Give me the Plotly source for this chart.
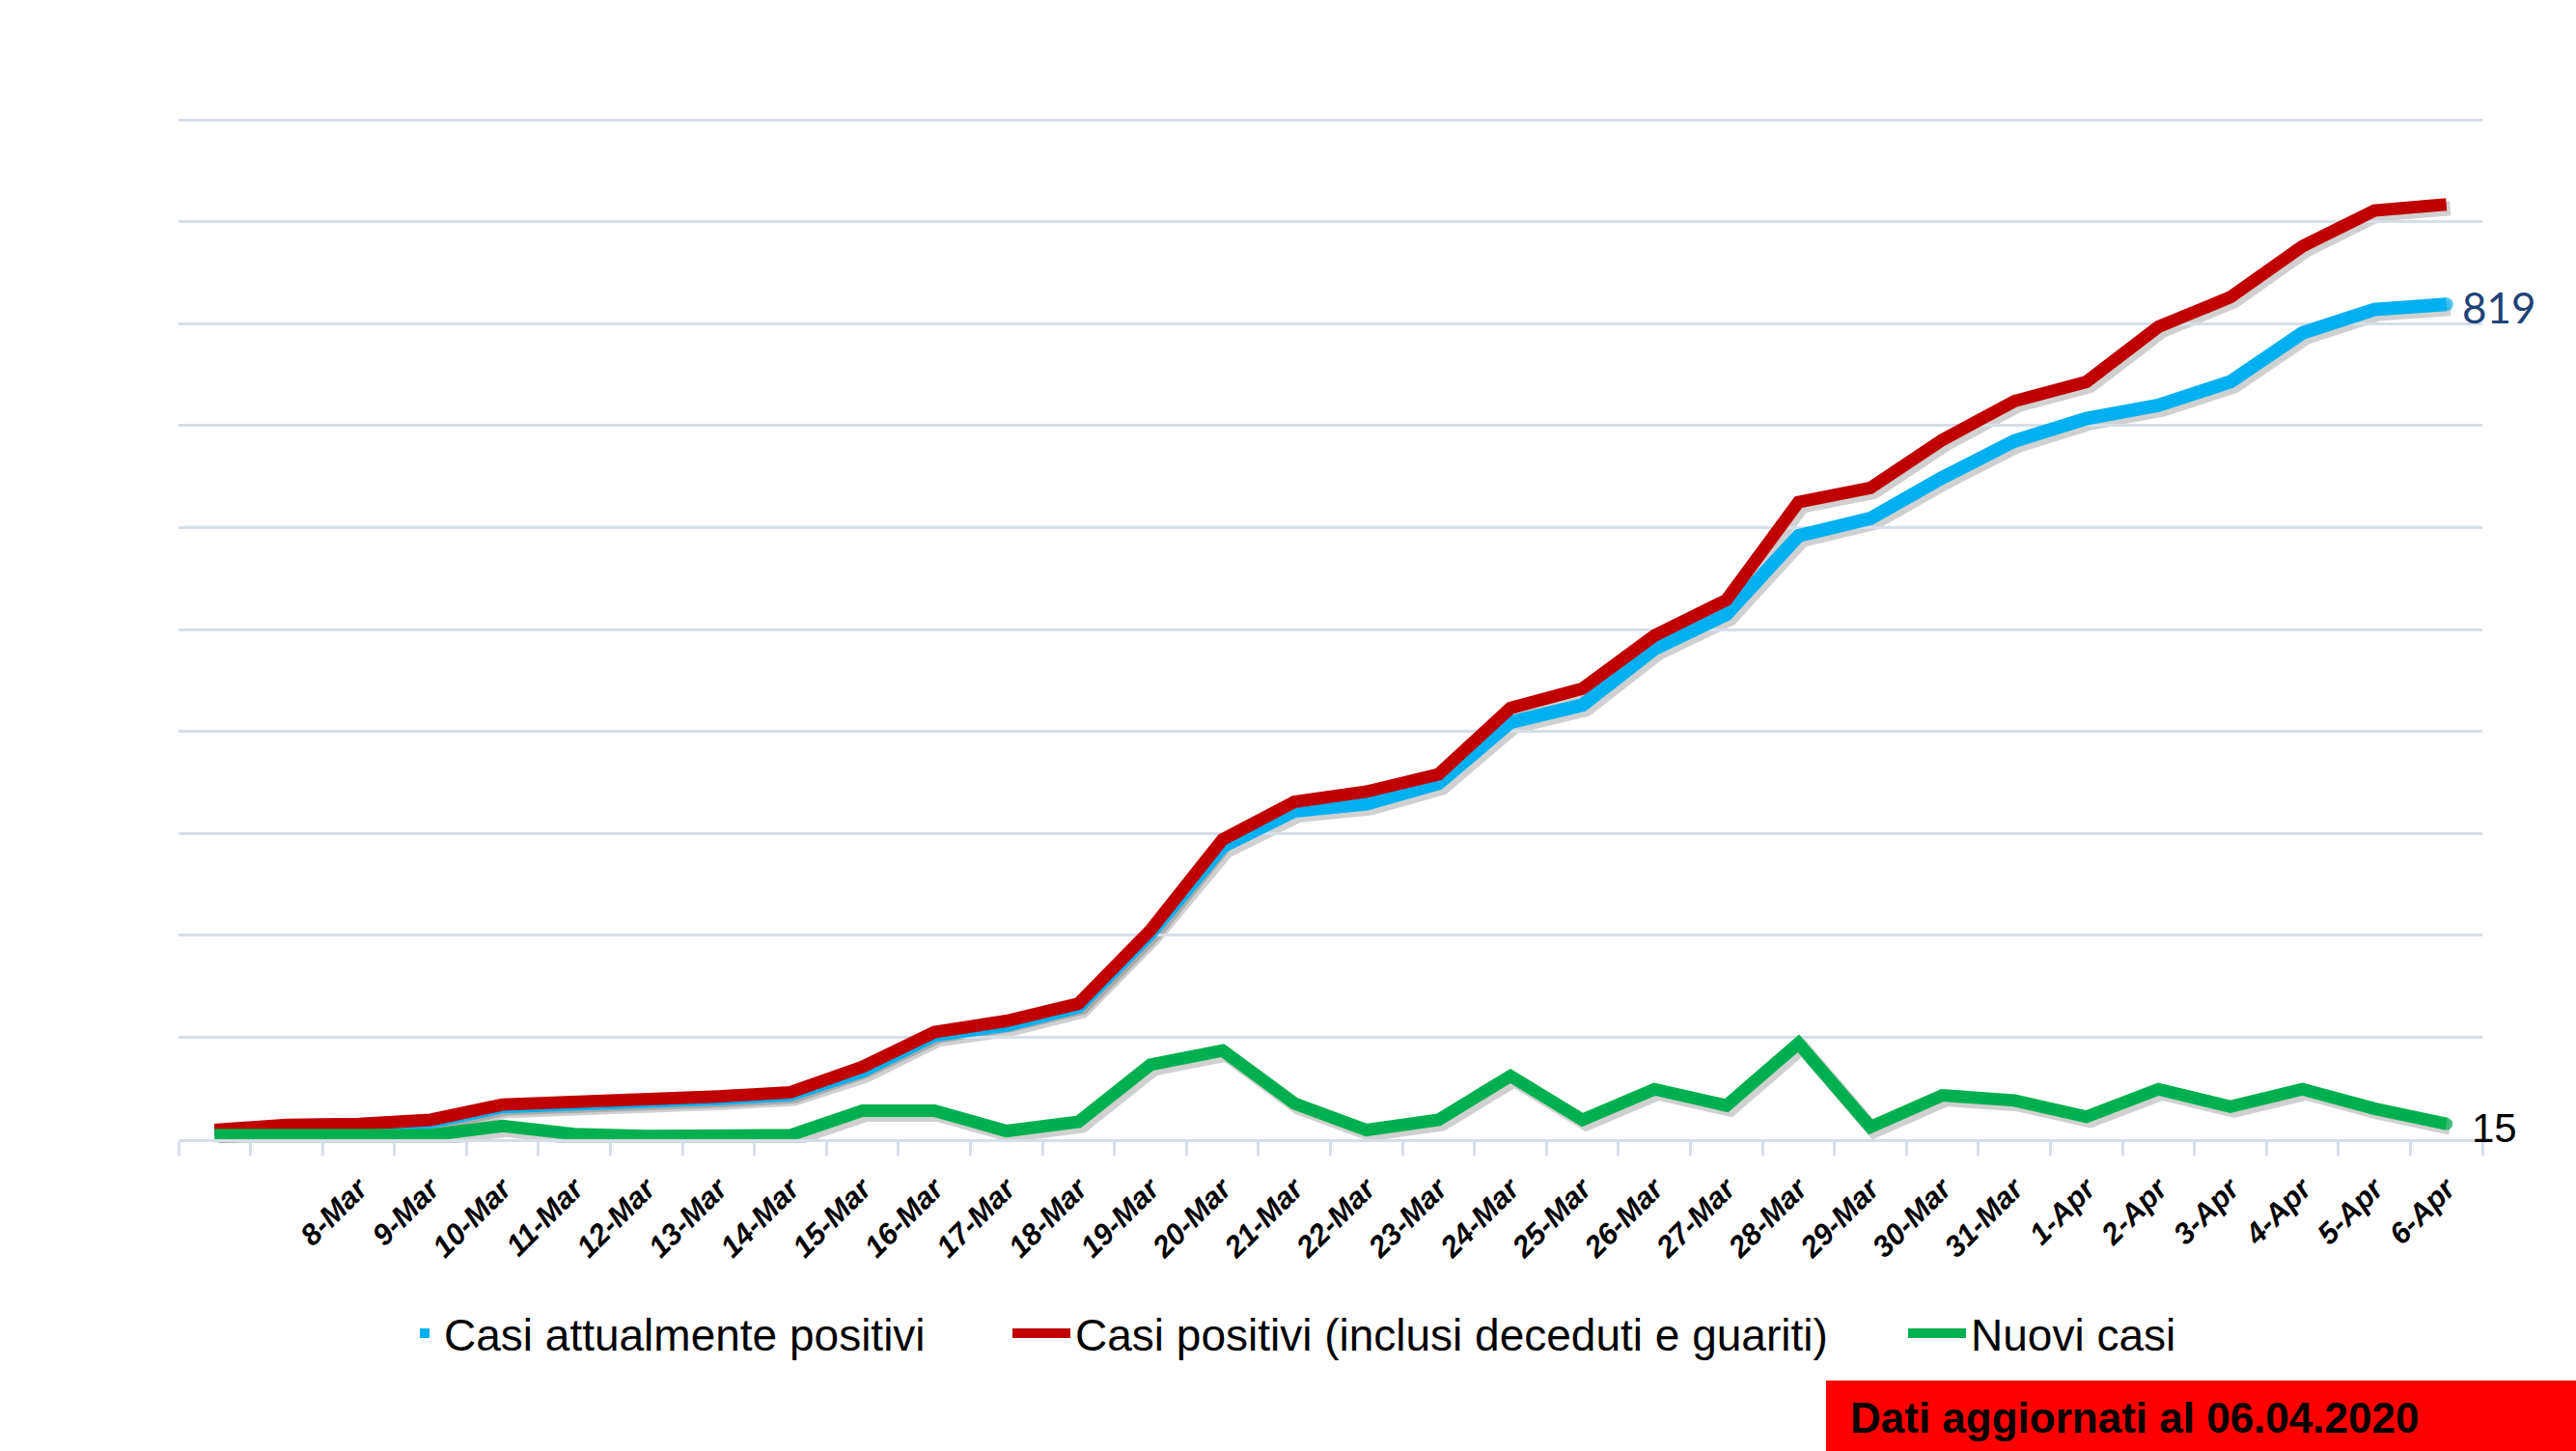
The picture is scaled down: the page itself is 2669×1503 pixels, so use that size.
import plotly.graph_objects as go

# ---------------- data ----------------
tick_labels = ["", "", "8-Mar", "9-Mar", "10-Mar", "11-Mar", "12-Mar", "13-Mar", "14-Mar",
               "15-Mar", "16-Mar", "17-Mar", "18-Mar", "19-Mar", "20-Mar", "21-Mar", "22-Mar",
               "23-Mar", "24-Mar", "25-Mar", "26-Mar", "27-Mar", "28-Mar", "29-Mar", "30-Mar",
               "31-Mar", "1-Apr", "2-Apr", "3-Apr", "4-Apr", "5-Apr", "6-Apr"]
x_pos = list(range(len(tick_labels)))

casi_attualmente_positivi = [7, 12, 13, 17, 32, 34, 37, 40, 44, 67, 102, 112, 130, 202, 287, 322,
                             329, 349, 409, 426, 481, 515, 592, 609, 649, 685, 707, 720, 743, 791,
                             814, 819]
casi_positivi_totali = [9, 14, 15, 19, 34, 36, 39, 42, 46, 71, 105, 116, 133, 205, 294, 331,
                        341, 358, 423, 442, 494, 529, 625, 639, 686, 724, 743, 797, 826, 876,
                        911, 917]
nuovi_casi = [4, 5, 4, 4, 13, 5, 3, 4, 4, 28, 28, 8, 17, 73, 87, 35,
              9, 19, 62, 19, 49, 33, 94, 12, 43, 38, 22, 49, 32, 49,
              30, 15]

series_names = ["Casi attualmente positivi",
                "Casi positivi (inclusi deceduti e guariti)",
                "Nuovi casi"]
footer_text = "Dati aggiornati al 06.04.2020"

# ---------------- layout geometry ----------------
W, H = 2669, 1503
SH = 4                      # drop-shadow offset in px
L, R, T, B = 185, 97 - SH, 121, 323 - SH
PW, PH = W - L - R, H - T - B
Y_MAX = 1003
DX, DY = SH / PW, SH / PH


def px2x(px):
    return (px - L) / PW


def py2y(py):
    return (H - B - py) / PH


BLUE = "#00b0f0"
RED = "#c00000"
GREEN = "#00b050"
GRID = "#d6dee9"
SHADOW = "rgba(40,40,40,0.22)"

n = len(x_pos)


def end_marker(size):
    return [0] * (n - 1) + [size]


series = [
    (casi_attualmente_positivi, BLUE, 14, None, True),
    (casi_positivi_totali, RED, 13, "legend2", False),
    (nuovi_casi, GREEN, 13, "legend3", True),
]

fig = go.Figure()

# soft drop shadows (drawn on an offset, hidden axis pair)
for vals, col, w, leg, cap in series:
    fig.add_trace(go.Scatter(
        x=x_pos, y=vals, mode="lines", xaxis="x", yaxis="y",
        line=dict(color=SHADOW, width=w + 2),
        showlegend=False, hoverinfo="skip", cliponaxis=False))

# main lines
for i, (vals, col, w, leg, cap) in enumerate(series):
    kw = {}
    if leg is None:
        kw["showlegend"] = False
    else:
        kw["name"] = series_names[i]
        kw["legend"] = leg
    fig.add_trace(go.Scatter(
        x=x_pos, y=vals, mode="lines+markers" if cap else "lines",
        xaxis="x2", yaxis="y2",
        line=dict(color=col, width=w),
        marker=dict(color=col, size=end_marker(w), line=dict(width=0)),
        hoverinfo="skip", cliponaxis=False, **kw))

# legend-only entry for the first series (small blue dot, as in the original)
fig.add_trace(go.Scatter(
    x=[None], y=[None], mode="markers", xaxis="x2", yaxis="y2",
    marker=dict(color=BLUE, size=10, symbol="square"),
    name=series_names[0], legend="legend"))

legend_font = dict(family="Liberation Sans", size=46, color="#000000")
leg_y = py2y(1381)
common_leg = dict(orientation="h", yanchor="middle", y=leg_y, xanchor="left",
                  font=legend_font, bgcolor="rgba(0,0,0,0)",
                  borderwidth=0, itemclick=False, itemdoubleclick=False)

value_labels = [
    dict(x=x_pos[-1], y=casi_attualmente_positivi[-1], xref="x2", yref="y2",
         text=str(casi_attualmente_positivi[-1]),
         xanchor="left", yanchor="middle", xshift=14, yshift=-3, showarrow=False,
         font=dict(family="Lato", size=44, color="#1f4278")),
    dict(x=x_pos[-1], y=nuovi_casi[-1], xref="x2", yref="y2", text=str(nuovi_casi[-1]),
         xanchor="left", yanchor="middle", xshift=24, yshift=-4, showarrow=False,
         font=dict(family="Liberation Sans", size=42, color="#000000")),
]

hidden_axis = dict(visible=False, showgrid=False, zeroline=False, fixedrange=True)

fig.update_layout(
    width=W, height=H,
    margin=dict(l=L, r=R, t=T, b=B, pad=0),
    paper_bgcolor="white", plot_bgcolor="rgba(0,0,0,0)",
    legend=dict(x=px2x(420), itemwidth=30, **common_leg),
    legend2=dict(x=px2x(1044), itemwidth=60, **common_leg),
    legend3=dict(x=px2x(1972), itemwidth=60, **common_leg),
    xaxis=dict(domain=[DX, 1], range=[-0.5, n - 0.5], anchor="y", **hidden_axis),
    yaxis=dict(domain=[0, 1 - DY], range=[0, Y_MAX], anchor="x", **hidden_axis),
    xaxis2=dict(
        domain=[0, 1 - DX], anchor="y2",
        range=[-0.5, n - 0.5],
        tickmode="array", tickvals=x_pos, ticktext=tick_labels,
        tickangle=-45, ticks="", ticklabelstandoff=18,
        tickfont=dict(family="Liberation Sans", size=31, color="#000000",
                      style="italic", weight="bold"),
        showgrid=False, zeroline=False,
        showline=True, linecolor=GRID, linewidth=3,
        minor=dict(ticks="outside", tickmode="linear", tick0=-0.5, dtick=1,
                   ticklen=14, tickwidth=3, tickcolor=GRID, showgrid=False),
        fixedrange=True),
    yaxis2=dict(
        domain=[DY, 1], anchor="x2",
        range=[0, Y_MAX], tickmode="linear", tick0=0, dtick=100,
        showticklabels=False, ticks="",
        showgrid=True, gridcolor=GRID, gridwidth=3,
        zeroline=False, showline=False, fixedrange=True),
    shapes=[dict(type="rect", xref="paper", yref="paper",
                 x0=px2x(1892), x1=px2x(W + 20), y0=py2y(1430), y1=py2y(H + 20),
                 fillcolor="#ff0000", line=dict(width=0), layer="above")],
    annotations=value_labels + [
        dict(text="<b>" + footer_text + "</b>", xref="paper", yref="paper",
             x=px2x(1915), y=py2y(1468), xanchor="left", yanchor="middle",
             showarrow=False,
             font=dict(family="Liberation Sans", size=44, color="#000000"))],
)

fig.write_html("out.html", config={"displayModeBar": False},
               post_script="document.body.style.margin='0';document.body.style.overflow='hidden';")
